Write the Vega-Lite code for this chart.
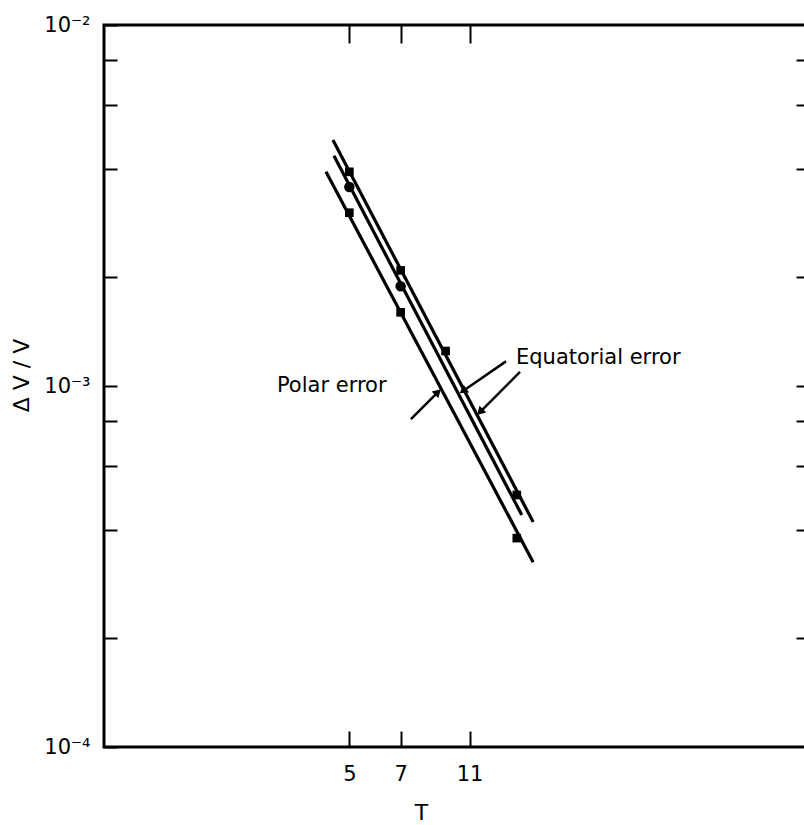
{
  "$schema": "https://vega.github.io/schema/vega-lite/v6.json",
  "width": 702,
  "height": 722,
  "autosize": {"type": "none"},
  "padding": {"left": 104, "top": 25, "right": 0, "bottom": 78},
  "background": "white",
  "config": {
    "font": "DejaVu Sans",
    "view": {"stroke": "black", "strokeWidth": 3},
    "axis": {
      "grid": false,
      "domain": false,
      "tickColor": "black",
      "tickWidth": 2,
      "labelColor": "black",
      "labelFontSize": 21,
      "labelFont": "DejaVu Sans",
      "titleColor": "black",
      "titleFont": "DejaVu Sans",
      "titleFontSize": 22,
      "titleFontWeight": "normal",
      "labelOverlap": false
    }
  },
  "datasets": {
    "fits": [
      {"series": "Equatorial (a)", "T": 4.49, "dv": 0.0048},
      {"series": "Equatorial (a)", "T": 16.7, "dv": 0.00042},
      {"series": "Equatorial (b)", "T": 4.52, "dv": 0.00434},
      {"series": "Equatorial (b)", "T": 15.5, "dv": 0.000439},
      {"series": "Polar", "T": 4.29, "dv": 0.00392},
      {"series": "Polar", "T": 16.7, "dv": 0.000325}
    ],
    "points": [
      {"series": "Equatorial (a)", "marker": "square", "T": 5, "dv": 0.00392},
      {"series": "Equatorial (a)", "marker": "square", "T": 7, "dv": 0.00209},
      {"series": "Equatorial (a)", "marker": "square", "T": 9.4, "dv": 0.00125},
      {"series": "Equatorial (a)", "marker": "square", "T": 15, "dv": 0.000499},
      {"series": "Equatorial (b)", "marker": "circle", "T": 5, "dv": 0.00356},
      {"series": "Equatorial (b)", "marker": "circle", "T": 7, "dv": 0.00189},
      {"series": "Polar", "marker": "square", "T": 5, "dv": 0.00302},
      {"series": "Polar", "marker": "square", "T": 7, "dv": 0.0016},
      {"series": "Polar", "marker": "square", "T": 15, "dv": 0.000379}
    ],
    "arrows": [
      {"name": "eq1", "T": 13.97, "dv": 0.00117, "T2": 10.54, "dv2": 0.000969},
      {"name": "eq2", "T": 15.32, "dv": 0.001094, "T2": 11.78, "dv2": 0.000847},
      {"name": "polar", "T": 7.49, "dv": 0.00081, "T2": 8.94, "dv2": 0.000962}
    ],
    "notes": [
      {"T": 14.92, "dv": 0.001196, "text": "Equatorial  error"},
      {"T": 3.11, "dv": 0.001, "text": "Polar error"}
    ]
  },
  "resolve": {"axis": {"x": "independent", "y": "independent"}},
  "layer": [
    {
      "data": {"name": "fits"},
      "mark": {"type": "line", "color": "black", "strokeWidth": 3.2, "clip": true},
      "encoding": {
        "x": {
          "field": "T", "type": "quantitative",
          "scale": {"type": "log", "domain": [1, 100], "nice": false},
          "axis": {
            "orient": "bottom",
            "values": [5, 7, 11],
            "tickSize": -16,
            "labelPadding": 32,
            "labelExpr": "format(datum.value, 'd')",
            "title": "T",
            "titleX": 317,
            "titleY": 65,
            "titleBaseline": "middle"
          }
        },
        "y": {
          "field": "dv", "type": "quantitative",
          "scale": {"type": "log", "domain": [0.0001, 0.01], "nice": false},
          "axis": {
            "orient": "left",
            "values": [0.0001, 0.0002, 0.0004, 0.0006, 0.0008, 0.001, 0.002, 0.004, 0.006, 0.008, 0.01],
            "tickSize": -13,
            "labelPadding": 27,
            "labelBaseline": "middle",
            "labelExpr": "datum.value == 0.01 ? '10⁻²' : datum.value == 0.001 ? '10⁻³' : datum.value == 0.0001 ? '10⁻⁴' : ''",
            "title": "Δ V / V",
            "titleX": -83,
            "titleY": 350,
            "titleBaseline": "middle",
            "titleAngle": -90
          }
        },
        "detail": {"field": "series"}
      }
    },
    {
      "data": {"name": "points"},
      "transform": [{"filter": "datum.marker == 'square'"}],
      "mark": {"type": "square", "color": "black", "opacity": 1, "size": 75},
      "encoding": {
        "x": {
          "field": "T", "type": "quantitative",
          "scale": {"type": "log", "domain": [1, 100], "nice": false},
          "axis": {"orient": "top", "values": [5, 7, 11], "tickSize": -18, "labels": false, "title": null}
        },
        "y": {
          "field": "dv", "type": "quantitative",
          "scale": {"type": "log", "domain": [0.0001, 0.01], "nice": false},
          "axis": {
            "orient": "right",
            "values": [0.0002, 0.0004, 0.0006, 0.0008, 0.001, 0.002, 0.004, 0.006, 0.008],
            "tickSize": -10, "labels": false, "title": null
          }
        }
      }
    },
    {
      "data": {"name": "points"},
      "transform": [{"filter": "datum.marker == 'circle'"}],
      "mark": {"type": "circle", "color": "black", "opacity": 1, "size": 110},
      "encoding": {
        "x": {"field": "T", "type": "quantitative", "axis": null},
        "y": {"field": "dv", "type": "quantitative", "axis": null}
      }
    },
    {
      "data": {"name": "arrows"},
      "mark": {"type": "rule", "color": "black", "strokeWidth": 2.5},
      "encoding": {
        "x": {"field": "T", "type": "quantitative", "axis": null},
        "y": {"field": "dv", "type": "quantitative", "axis": null},
        "x2": {"field": "T2"},
        "y2": {"field": "dv2"}
      }
    },
    {
      "data": {"name": "arrows"},
      "transform": [{"filter": "datum.name == 'eq1'"}],
      "mark": {"type": "point", "shape": "triangle-up", "filled": true, "color": "black", "opacity": 1, "size": 90, "angle": 235},
      "encoding": {
        "x": {"field": "T2", "type": "quantitative", "axis": null},
        "y": {"field": "dv2", "type": "quantitative", "axis": null}
      }
    },
    {
      "data": {"name": "arrows"},
      "transform": [{"filter": "datum.name == 'eq2'"}],
      "mark": {"type": "point", "shape": "triangle-up", "filled": true, "color": "black", "opacity": 1, "size": 90, "angle": 225},
      "encoding": {
        "x": {"field": "T2", "type": "quantitative", "axis": null},
        "y": {"field": "dv2", "type": "quantitative", "axis": null}
      }
    },
    {
      "data": {"name": "arrows"},
      "transform": [{"filter": "datum.name == 'polar'"}],
      "mark": {"type": "point", "shape": "triangle-up", "filled": true, "color": "black", "opacity": 1, "size": 90, "angle": 45},
      "encoding": {
        "x": {"field": "T2", "type": "quantitative", "axis": null},
        "y": {"field": "dv2", "type": "quantitative", "axis": null}
      }
    },
    {
      "data": {"name": "notes"},
      "mark": {"type": "text", "align": "left", "baseline": "middle", "fontSize": 21, "font": "DejaVu Sans", "color": "black"},
      "encoding": {
        "x": {"field": "T", "type": "quantitative", "axis": null},
        "y": {"field": "dv", "type": "quantitative", "axis": null},
        "text": {"field": "text"}
      }
    }
  ]
}
